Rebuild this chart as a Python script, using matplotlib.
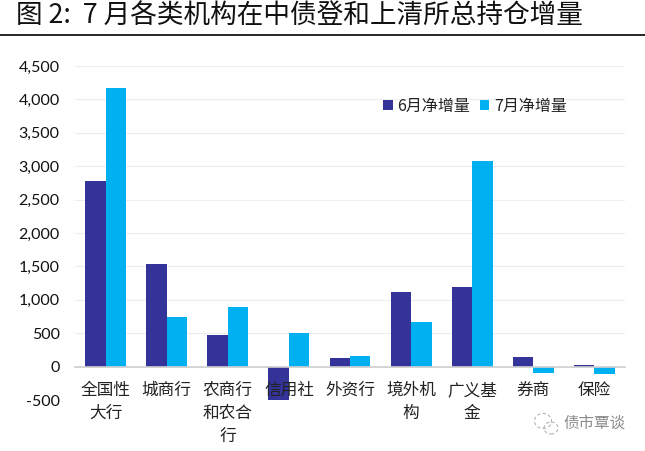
import matplotlib
matplotlib.use('Agg')
import matplotlib.pyplot as plt
from matplotlib.lines import Line2D
from matplotlib.patches import Ellipse

plt.rcParams['font.family'] = ['Noto Sans CJK SC', 'DejaVu Sans']

categories = ['全国性\n大行', '城商行', '农商行\n和农合\n行', '信用社', '外资行',
              '境外机\n构', '广义基\n金', '券商', '保险']
june = [2780, 1530, 470, -500, 130, 1110, 1190, 150, 20]
july = [4170, 740, 890, 510, 160, 670, 3080, -90, -110]
y_ticks = [-500, 0, 500, 1000, 1500, 2000, 2500, 3000, 3500, 4000, 4500]

JUNE_COLOR = '#333399'
JULY_COLOR = '#00B0F0'
W, H = 645, 451

fig = plt.figure(figsize=(W / 100, H / 100), dpi=100)
ax = fig.add_axes([75 / W, 1 - 400 / H, 550 / W, 334 / H])

# spine first: moving it resets the tick labels
for side in ('top', 'right', 'left'):
    ax.spines[side].set_visible(False)
ax.spines['bottom'].set_position(('data', 0))
ax.spines['bottom'].set_color('#D0D0D0')
ax.spines['bottom'].set_linewidth(1.2)

x = list(range(len(categories)))
width = 0.335
ax.bar([i - width / 2 for i in x], june, width, color=JUNE_COLOR, label='6月净增量')
ax.bar([i + width / 2 for i in x], july, width, color=JULY_COLOR, label='7月净增量')

# grid by hand so it stays under the bars while the labels stay over them
for v in y_ticks:
    ax.axhline(v, color='#EDEDED', linewidth=0.8, zorder=0)

ax.set_xlim(-0.5, 8.5)
ax.set_ylim(-500, 4500)
ax.set_yticks(y_ticks)
ax.set_yticklabels([f'{v:,}' for v in y_ticks], family='Lato', fontsize=11.5, color='#111111')
ax.set_xticks(x)
ax.set_xticklabels(categories, fontsize=12, color='#222222', linespacing=1.45)
ax.tick_params(axis='x', length=0, pad=11)
ax.tick_params(axis='y', length=0, pad=11)

ax.legend(loc='upper left', bbox_to_anchor=(300 / 550, 0.928), ncol=2, frameon=False,
          fontsize=11.5, handlelength=0.6, handleheight=0.6, handletextpad=0.3,
          columnspacing=0.6, borderpad=0, labelcolor='#222222')

# title and rule
fig.text(16 / W, 1 - 16 / H, '图 2:  7 月各类机构在中债登和上清所总持仓增量', fontsize=19.2,
         color='#111111', va='center', ha='left')
fig.add_artist(Line2D([0, 1], [1 - 35 / H, 1 - 35 / H], color='black', linewidth=1.2))

# watermark
fig.text(563 / W, 1 - 423 / H, '债市覃谈', fontsize=11.2, color='#8A8A8A', va='center', ha='left')
for cx, cy, w, h in [(543, 421, 17, 15), (551, 428, 14, 12)]:
    fig.add_artist(Ellipse((cx / W, 1 - cy / H), w / W, h / H, fill=False, edgecolor='#B5B5B5',
                           linewidth=0.8, linestyle=(0, (3, 2)), transform=fig.transFigure))

fig.savefig('out.png', dpi=100)
